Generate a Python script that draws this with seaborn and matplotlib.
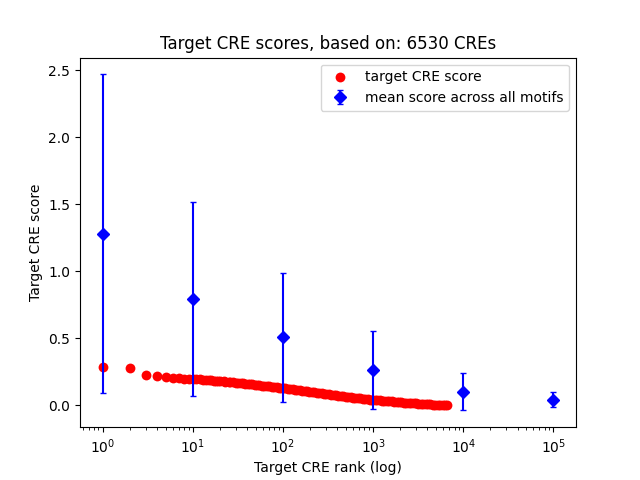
# Target CRE scores vs rank (log)

import matplotlib
matplotlib.use("Agg")
import matplotlib.pyplot as plt
import seaborn as sns
import pandas as pd

# -------------------------------
# DATA
# -------------------------------

n_cres = 6530

cre_rank = [1, 2, 3, 4, 5, 6, 7, 8, 9,
            10, 11, 12, 13, 14, 15, 16, 17, 18, 19, 20, 22, 23, 25, 26, 28, 30,
            32, 34, 36, 38, 41, 43, 46, 49, 52, 55, 58, 62, 66, 70, 75, 80, 85,
            90, 95, 100, 106, 113, 120, 128, 136, 145, 154, 164, 174, 185, 197,
            210, 223, 237, 252, 268, 285, 303, 322, 343, 365, 388, 413, 439, 467,
            497, 529, 562, 598, 636, 677, 720, 766, 815, 867, 922, 981, 1043,
            1110, 1180, 1256, 1336, 1421, 1512, 1609, 1711, 1820, 1936, 2060,
            2191, 2331, 2480, 2638, 2806, 2985, 3176, 3379, 3594, 3824, 4067,
            4327, 4603, 4897, 5209, 5542, 5895, 6200, 6530]

cre_score = [0.285, 0.277, 0.225, 0.217, 0.210, 0.205, 0.201, 0.198, 0.196,
             0.194, 0.192, 0.191, 0.189, 0.187, 0.186, 0.184, 0.183, 0.181, 0.180,
             0.178, 0.176, 0.175, 0.173, 0.171, 0.169, 0.167, 0.165, 0.163, 0.162,
             0.160, 0.158, 0.156, 0.154, 0.152, 0.150, 0.148, 0.146, 0.144, 0.142,
             0.140, 0.137, 0.135, 0.133, 0.131, 0.129, 0.127, 0.125, 0.122, 0.120,
             0.117, 0.115, 0.112, 0.110, 0.107, 0.105, 0.102, 0.100, 0.097, 0.095,
             0.092, 0.090, 0.087, 0.085, 0.082, 0.080, 0.077, 0.075, 0.072, 0.070,
             0.067, 0.065, 0.062, 0.060, 0.057, 0.055, 0.053, 0.051, 0.049, 0.047,
             0.045, 0.043, 0.041, 0.039, 0.037, 0.036, 0.034, 0.033, 0.031, 0.030,
             0.028, 0.027, 0.025, 0.024, 0.022, 0.021, 0.019, 0.018, 0.016, 0.015,
             0.013, 0.012, 0.011, 0.010, 0.008, 0.007, 0.006, 0.005, 0.004, 0.003,
             0.002, 0.002, 0.001, 0.001, 0.000]

motif_rank = [1, 10, 100, 1000, 10000, 100000]
motif_mean = [1.28, 0.79, 0.505, 0.26, 0.10, 0.04]
motif_err = [1.19, 0.725, 0.48, 0.29, 0.14, 0.055]

df = pd.DataFrame({'rank': cre_rank, 'score': cre_score})

# -------------------------------
# PLOT
# -------------------------------

fig, ax = plt.subplots(figsize=(6.4, 4.8), dpi=100)

sns.scatterplot(data=df, x='rank', y='score', color='red', s=50,
                linewidth=0, ax=ax, label='target CRE score')

ax.errorbar(motif_rank, motif_mean, yerr=motif_err, fmt='D', color='blue',
            markersize=6, capsize=2, elinewidth=1.5,
            label='mean score across all motifs')

ax.set_xscale('log')
ax.set_xlabel("Target CRE rank (log)")
ax.set_ylabel("Target CRE score")
ax.set_title("Target CRE scores, based on: %d CREs" % n_cres)
ax.legend(loc='upper right')

plt.savefig("out.png")
